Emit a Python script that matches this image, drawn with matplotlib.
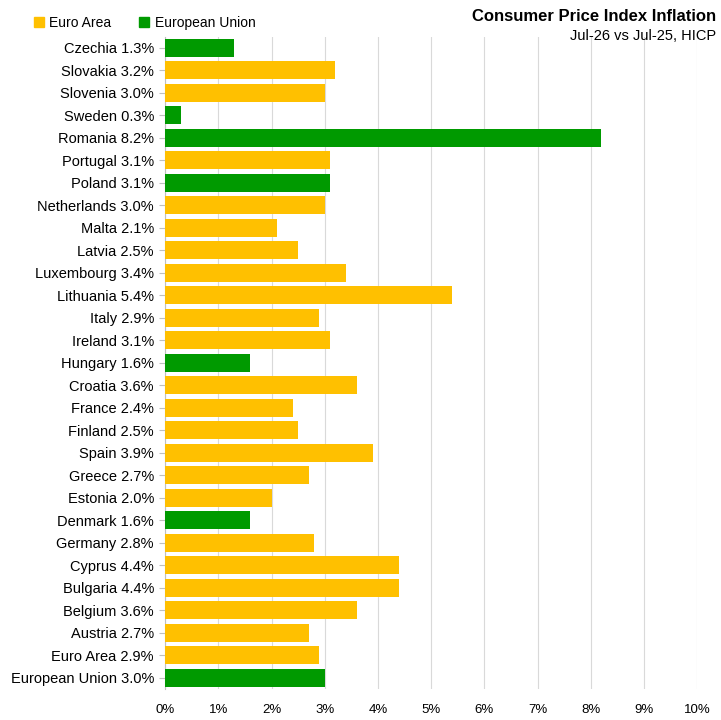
import matplotlib.pyplot as plt
from matplotlib.patches import Patch
import numpy as np

plt.rcParams['font.family'] = ['Liberation Sans', 'DejaVu Sans']

# Countries top to bottom, value in %, group membership
countries = ['Czechia', 'Slovakia', 'Slovenia', 'Sweden', 'Romania', 'Portugal',
             'Poland', 'Netherlands', 'Malta', 'Latvia', 'Luxembourg', 'Lithuania',
             'Italy', 'Ireland', 'Hungary', 'Croatia', 'France', 'Finland', 'Spain',
             'Greece', 'Estonia', 'Denmark', 'Germany', 'Cyprus', 'Bulgaria',
             'Belgium', 'Austria', 'Euro Area', 'European Union']
values = [1.3, 3.2, 3.0, 0.3, 8.2, 3.1, 3.1, 3.0, 2.1, 2.5, 3.4, 5.4, 2.9, 3.1,
          1.6, 3.6, 2.4, 2.5, 3.9, 2.7, 2.0, 1.6, 2.8, 4.4, 4.4, 3.6, 2.7, 2.9, 3.0]
euro_area = [False, True, True, False, False, True, False, True, True, True, True,
             True, True, True, False, True, True, True, True, True, True, False,
             True, True, True, True, True, True, False]

yellow = '#FFC000'
green = '#009A00'

labels = [f'{c} {v:.1f}%' for c, v in zip(countries, values)]
colors = [yellow if e else green for e in euro_area]

fig = plt.figure(figsize=(7.21, 7.2), dpi=100)
ax = fig.add_axes([0.229, 0.043, 0.738, 0.906])

y = np.arange(len(countries))
ax.barh(y, values, height=0.8, color=colors, zorder=3)
ax.set_ylim(len(countries) - 0.5, -0.5)
ax.set_yticks(y)
ax.set_yticklabels(labels, fontsize=10.5)
ax.set_xlim(0, 10)
ax.set_xticks(np.arange(0, 11, 1))
ax.set_xticklabels([f'{i}%' for i in range(11)], fontsize=9.5)
ax.grid(axis='x', color='#d9d9d9', linewidth=0.8, zorder=0)
for s in ['top', 'right', 'bottom']:
    ax.spines[s].set_visible(False)
ax.spines['left'].set_color('#bfbfbf')
ax.tick_params(axis='y', length=4, color='#bfbfbf', pad=4)
ax.tick_params(axis='x', length=0, pad=11)

fig.text(0.993, 0.988, 'Consumer Price Index Inflation', ha='right', va='top',
         fontsize=12, fontweight='bold')
fig.text(0.993, 0.960, 'Jul-26 vs Jul-25, HICP', ha='right', va='top', fontsize=10.5)

handles = [Patch(color=yellow, label='Euro Area'), Patch(color=green, label='European Union')]
fig.legend(handles=handles, loc='upper left', bbox_to_anchor=(0.03, 0.995), ncol=2,
           frameon=False, fontsize=10, handlelength=0.7, handleheight=0.7,
           columnspacing=2.0, handletextpad=0.4)

fig.savefig('out.png', dpi=100)
